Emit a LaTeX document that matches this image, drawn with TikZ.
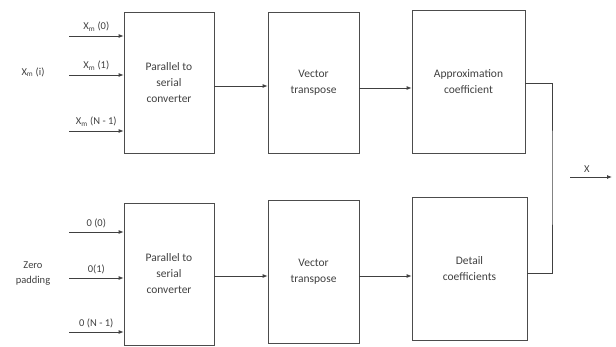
\documentclass[tikz,border=0pt]{standalone}
\usepackage{fontspec}
\setmainfont{Carlito}
\usetikzlibrary{arrows.meta}
\begin{document}
\begin{tikzpicture}[x=1pt,y=-1pt,
  blk/.style={draw=black!70, line width=0.8pt, inner sep=0pt, align=center,
    font=\fontsize{11.5}{16}\selectfont, text=black!75},
  lbl/.style={font=\fontsize{10.5}{15}\selectfont, text=black!75, inner sep=1pt, align=center},
  wire/.style={draw=black!75, line width=0.8pt},
  arr/.style={wire, -{Latex[length=5pt,width=4pt]}}]
\useasboundingbox (0,0) rectangle (616,347);
% top row
\node[blk, minimum width=90, minimum height=141] (p1) at (169,82.5) {Parallel to\\serial\\converter};
\node[blk, minimum width=91, minimum height=141] (v1) at (313.5,82.5) {Vector\\transpose};
\node[blk, minimum width=113, minimum height=143] (ap) at (468.5,81.5) {Approximation\\coefficient};
% bottom row
\node[blk, minimum width=90, minimum height=142] (p2) at (169,274) {Parallel to\\serial\\converter};
\node[blk, minimum width=91, minimum height=143] (v2) at (313.5,271.5) {Vector\\transpose};
\node[blk, minimum width=115, minimum height=143] (dt) at (469.5,268.5) {Detail\\coefficients};
% input coordinates
\coordinate (i1) at (69,36);
\coordinate (i2) at (69,75);
\coordinate (i3) at (69,131);
\coordinate (j1) at (69,232);
\coordinate (j2) at (69,278);
\coordinate (j3) at (69,332);
\draw[arr] (i1) -- (i1 -| p1.west) node[lbl, midway, above=3pt] (l1) {X\textsubscript{m} (0)};
\draw[arr] (i2) -- (i2 -| p1.west) node[lbl, midway, above=3pt] (l2) {X\textsubscript{m} (1)};
\draw[arr] (i3) -- (i3 -| p1.west) node[lbl, midway, above=3pt] (l3) {X\textsubscript{m} (N - 1)};
\draw[arr] (j1) -- (j1 -| p2.west) node[lbl, midway, above=3pt] (m1) {0 (0)};
\draw[arr] (j2) -- (j2 -| p2.west) node[lbl, midway, above=3pt] (m2) {0(1)};
\draw[arr] (j3) -- (j3 -| p2.west) node[lbl, midway, above=3pt] (m3) {0 (N - 1)};
\node[lbl] (xin) at (33,72) {X\textsubscript{m} (i)};
\node[lbl] (zp) at (33,274) {Zero\\padding};
% connections
\draw[arr] (p1.east |- 0,86) -- (v1.west |- 0,86);
\draw[arr] (v1.east |- 0,88) -- (ap.west |- 0,88);
\draw[arr] (p2.east |- 0,276) -- (v2.west |- 0,276);
\draw[arr] (v2.east |- 0,276) -- (dt.west |- 0,276);
\coordinate (jn) at (552,177);
\draw[wire] (ap.east |- 0,83) -| (jn) |- (dt.east |- 0,273);
\coordinate (o1) at (570,177);
\coordinate (o2) at (612,177);
\draw[arr] (o1) -- (o2) node[lbl, pos=0.4, above=3pt] (xl) {X};
\end{tikzpicture}
\end{document}
